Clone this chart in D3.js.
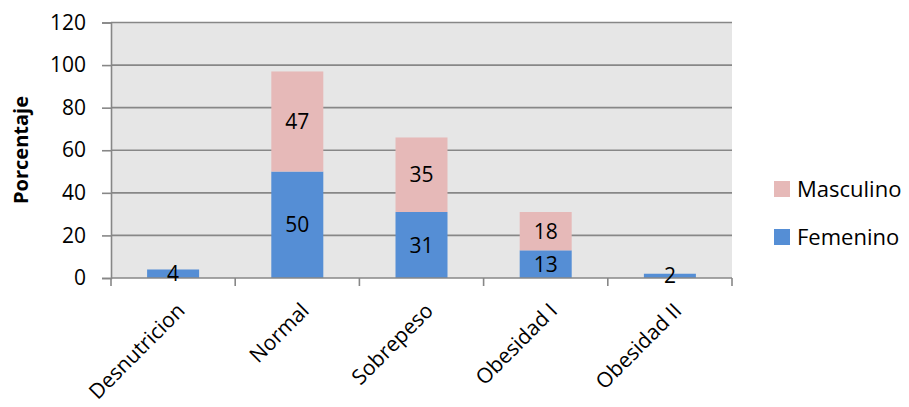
<!DOCTYPE html>
<html>
<head>
<meta charset="utf-8">
<script src="https://cdn.jsdelivr.net/npm/d3@7"></script>
<style>
  html, body { margin: 0; padding: 0; background: #ffffff; }
  svg { display: block; font-family: "Open Sans", Lato, sans-serif; }
</style>
</head>
<body>
<svg id="chart" width="909" height="407"></svg>
<script>
// Nutritional status by sex (percentages)
const categories = ["Desnutricion", "Normal", "Sobrepeso", "Obesidad I", "Obesidad II"];
const femenino = [4, 50, 31, 13, 2];
const masculino = [0, 47, 35, 18, 0];
const seriesNames = ["Femenino", "Masculino"];
const yTicks = [0, 20, 40, 60, 80, 100, 120];

const colors = { Femenino: "#558ed5", Masculino: "#e6b9b8" };
const axisColor = "#878787";
const fontSize = 21;

const svg = d3.select("#chart");
const plot = { left: 111, top: 22.5, right: 732, bottom: 278 };

const x = d3.scaleBand().domain(categories).range([plot.left, plot.right]).paddingInner(0).paddingOuter(0);
const y = d3.scaleLinear().domain([0, 120]).range([plot.bottom, plot.top]);

const rows = categories.map((c, i) => ({ cat: c, Femenino: femenino[i], Masculino: masculino[i] }));
const stacked = d3.stack().keys(seriesNames)(rows);

// plot background
svg.append("rect")
  .attr("x", plot.left).attr("y", plot.top)
  .attr("width", plot.right - plot.left).attr("height", plot.bottom - plot.top)
  .attr("fill", "#e6e6e6");

// horizontal gridlines
svg.append("g").selectAll("line").data(yTicks.filter(d => d > 0)).join("line")
  .attr("x1", plot.left).attr("x2", plot.right)
  .attr("y1", d => y(d)).attr("y2", d => y(d))
  .attr("stroke", axisColor).attr("stroke-width", 1.6);

// bars
const barW = 52;
const layers = svg.append("g").selectAll("g").data(stacked).join("g")
  .attr("fill", d => colors[d.key]);
layers.selectAll("rect").data(d => d.filter(s => s[1] - s[0] > 0)).join("rect")
  .attr("x", d => x(d.data.cat) + x.bandwidth() / 2 - barW / 2)
  .attr("width", barW)
  .attr("y", d => y(d[1]))
  .attr("height", d => y(d[0]) - y(d[1]));

// y axis
const yAxis = svg.append("g")
  .attr("transform", `translate(${plot.left},0)`)
  .call(d3.axisLeft(y).tickValues(yTicks).tickSize(9).tickPadding(16));
yAxis.select(".domain").attr("stroke", axisColor).attr("stroke-width", 1.6);
yAxis.selectAll(".tick line").attr("stroke", axisColor).attr("stroke-width", 1.6);
yAxis.selectAll(".tick text").attr("font-size", fontSize).attr("fill", "#000")
  .attr("font-family", "'Open Sans', sans-serif");

// x axis with ticks at band boundaries
const boundaries = categories.map(c => x(c)).concat([plot.right]);
const xg = svg.append("g");
xg.append("line")
  .attr("x1", plot.left).attr("x2", plot.right)
  .attr("y1", plot.bottom).attr("y2", plot.bottom)
  .attr("stroke", axisColor).attr("stroke-width", 1.6);
xg.selectAll("line.tk").data(boundaries).join("line").attr("class", "tk")
  .attr("x1", d => d).attr("x2", d => d)
  .attr("y1", plot.bottom).attr("y2", plot.bottom + 8)
  .attr("stroke", axisColor).attr("stroke-width", 1.6);
xg.selectAll("text").data(categories).join("text")
  .attr("transform", d => `translate(${x(d) + x.bandwidth() / 2 + 13},${plot.bottom + 34}) rotate(-45)`)
  .attr("text-anchor", "end")
  .attr("font-size", fontSize)
  .attr("fill", "#000")
  .text(d => d);

// value labels centred in each segment
const labels = svg.append("g");
stacked.forEach(layer => {
  layer.forEach(s => {
    const v = s[1] - s[0];
    if (v <= 0) return;
    labels.append("text")
      .attr("x", x(s.data.cat) + x.bandwidth() / 2)
      .attr("y", (y(s[0]) + y(s[1])) / 2)
      .attr("dy", "0.36em")
      .attr("text-anchor", "middle")
      .attr("font-size", fontSize)
      .attr("fill", "#000")
      .text(v);
  });
});

// axis title
svg.append("text")
  .attr("transform", `translate(28,150) rotate(-90)`)
  .attr("text-anchor", "middle")
  .attr("font-size", 20)
  .attr("font-weight", "bold")
  .attr("fill", "#000")
  .text("Porcentaje");

// legend
const legendItems = ["Masculino", "Femenino"];
const lg = svg.append("g").selectAll("g").data(legendItems).join("g")
  .attr("transform", (d, i) => `translate(774,${181 + i * 48})`);
lg.append("rect").attr("width", 16).attr("height", 16).attr("fill", d => colors[d]);
lg.append("text").attr("x", 23).attr("y", 8).attr("dy", "0.36em")
  .attr("font-size", 22).attr("fill", "#000").text(d => d);
</script>
</body>
</html>
